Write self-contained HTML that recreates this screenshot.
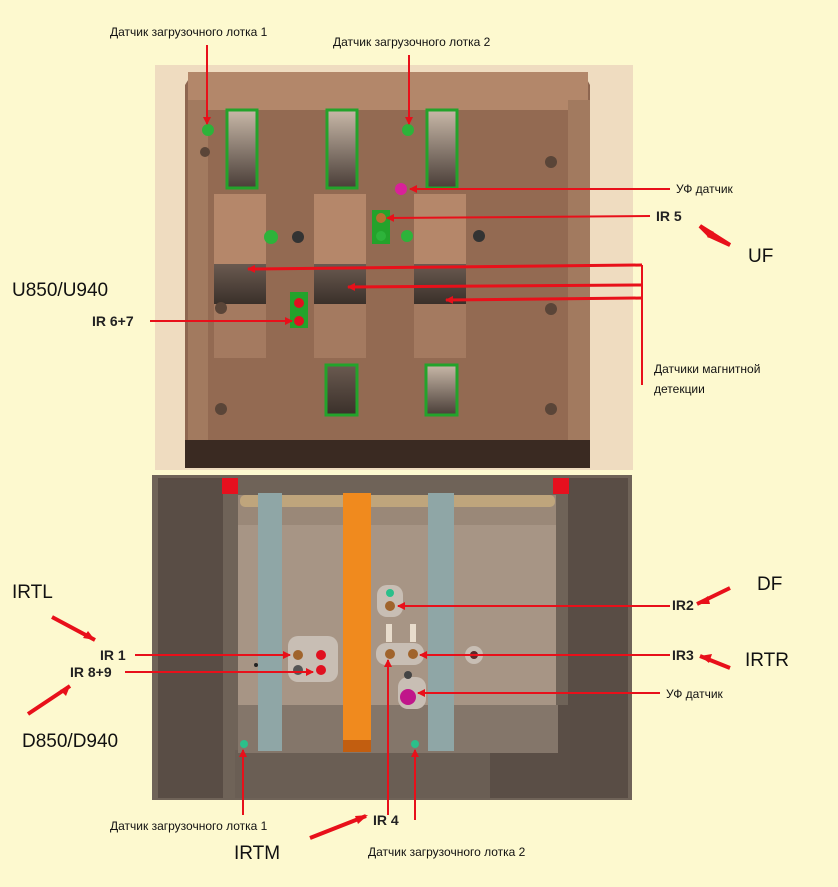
<!DOCTYPE html>
<html><head><meta charset="utf-8"><style>
html,body{margin:0;padding:0;background:#fdf9cf;}
svg{display:block}
text{font-family:"Liberation Sans",sans-serif;}
</style></head><body>
<svg width="838" height="887" viewBox="0 0 838 887" xmlns="http://www.w3.org/2000/svg">
<defs>
<marker id="a" markerWidth="8" markerHeight="8" refX="7" refY="4" orient="auto" markerUnits="userSpaceOnUse"><path d="M0,0 L8,4 L0,8 z" fill="#e8101a"/></marker>
<linearGradient id="roll" x1="0" y1="0" x2="0" y2="1"><stop offset="0" stop-color="#c8b8a8"/><stop offset="1" stop-color="#4a3e38"/></linearGradient>
<linearGradient id="dark" x1="0" y1="0" x2="0" y2="1"><stop offset="0" stop-color="#6a5a50"/><stop offset="1" stop-color="#3a302a"/></linearGradient>
</defs>
<rect width="838" height="887" fill="#fdf9cf"/>
<!-- top image -->
<rect x="155" y="65" width="478" height="405" fill="#efdcc0"/>
<path d="M193,72 L583,72 L590,85 L590,440 L575,468 L200,468 L185,440 L185,85 Z" fill="#8e6650"/>
<rect x="188" y="72" width="400" height="38" fill="#b3876a"/>
<rect x="208" y="110" width="370" height="330" fill="#936a52"/>
<rect x="185" y="440" width="405" height="28" fill="#3a2a22"/>
<rect x="188" y="100" width="20" height="340" fill="#a27a5f"/>
<rect x="568" y="100" width="22" height="340" fill="#a27a5f"/>
<!-- rollers top -->
<g stroke="#23a32b" stroke-width="3" fill="url(#roll)">
<rect x="227" y="110" width="30" height="78"/><rect x="327" y="110" width="30" height="78"/><rect x="427" y="110" width="30" height="78"/>
<rect x="326" y="365" width="31" height="50" fill="url(#dark)"/><rect x="426" y="365" width="31" height="50"/>
</g>
<!-- big blocks -->
<g>
<rect x="214" y="194" width="52" height="70" fill="#b5876a"/><rect x="214" y="264" width="52" height="40" fill="url(#dark)"/><rect x="214" y="304" width="52" height="54" fill="#a47a60"/>
<rect x="314" y="194" width="52" height="70" fill="#b5876a"/><rect x="314" y="264" width="52" height="40" fill="url(#dark)"/><rect x="314" y="304" width="52" height="54" fill="#a47a60"/>
<rect x="414" y="194" width="52" height="70" fill="#b5876a"/><rect x="414" y="264" width="52" height="40" fill="url(#dark)"/><rect x="414" y="304" width="52" height="54" fill="#a47a60"/>
</g>
<circle cx="208" cy="130" r="6" fill="#2db33a"/><circle cx="408" cy="130" r="6" fill="#2db33a"/>
<circle cx="205" cy="152" r="5" fill="#5a4538"/><circle cx="551" cy="162" r="6" fill="#5a4538"/>
<circle cx="221" cy="308" r="6" fill="#5a4538"/><circle cx="221" cy="409" r="6" fill="#5a4538"/><circle cx="551" cy="309" r="6" fill="#5a4538"/><circle cx="551" cy="409" r="6" fill="#5a4538"/>
<circle cx="401" cy="189" r="6" fill="#d9219a"/>
<rect x="372" y="210" width="18" height="34" fill="#23a32b"/><circle cx="381" cy="218" r="5" fill="#b4702f"/><circle cx="381" cy="236" r="5" fill="#2db33a"/>
<circle cx="271" cy="237" r="7" fill="#2db33a"/><circle cx="298" cy="237" r="6" fill="#333"/><circle cx="407" cy="236" r="6" fill="#2db33a"/><circle cx="479" cy="236" r="6" fill="#333"/>
<rect x="290" y="292" width="18" height="36" fill="#23a32b"/><circle cx="299" cy="303" r="5" fill="#e01020"/><circle cx="299" cy="321" r="5" fill="#e01020"/>
<!-- bottom image -->
<rect x="152" y="475" width="480" height="325" fill="#6f6358"/>
<rect x="158" y="478" width="65" height="320" fill="#594d45"/>
<rect x="568" y="478" width="60" height="320" fill="#594d45"/>
<rect x="238" y="495" width="318" height="255" fill="#a79585"/>
<rect x="238" y="495" width="318" height="30" fill="#9a8878"/>
<rect x="240" y="495" width="315" height="12" rx="5" fill="#bfa57c"/>
<rect x="222" y="478" width="16" height="16" fill="#e6101e"/><rect x="553" y="478" width="16" height="16" fill="#e6101e"/>
<rect x="235" y="750" width="330" height="48" fill="#6a5e54"/>
<rect x="490" y="705" width="80" height="93" fill="#5a4e46"/>
<rect x="238" y="705" width="320" height="48" fill="#84766a"/>
<rect x="258" y="493" width="24" height="258" fill="#8fa6a6"/>
<rect x="428" y="493" width="26" height="258" fill="#8fa6a6"/>
<rect x="343" y="493" width="28" height="258" fill="#f08a1e"/>
<rect x="343" y="740" width="28" height="12" fill="#c25e10"/>
<rect x="288" y="636" width="50" height="46" rx="10" fill="#c8beb4"/>
<circle cx="298" cy="655" r="5" fill="#a0642c"/><circle cx="321" cy="655" r="5" fill="#e01020"/><circle cx="321" cy="670" r="5" fill="#e01020"/><circle cx="298" cy="670" r="5" fill="#555"/>
<rect x="377" y="585" width="26" height="32" rx="10" fill="#c8beb4"/><circle cx="390" cy="593" r="4" fill="#2bbf8a"/><circle cx="390" cy="606" r="5" fill="#a0642c"/>
<rect x="376" y="643" width="48" height="22" rx="10" fill="#c8beb4"/><circle cx="390" cy="654" r="5" fill="#a0642c"/><circle cx="413" cy="654" r="5" fill="#a0642c"/>
<rect x="386" y="624" width="6" height="18" fill="#e8dccc"/><rect x="410" y="624" width="6" height="18" fill="#e8dccc"/>
<rect x="398" y="677" width="28" height="32" rx="10" fill="#c8beb4"/><circle cx="408" cy="697" r="8" fill="#c0168a"/><circle cx="408" cy="675" r="4" fill="#444"/>
<circle cx="474" cy="655" r="9" fill="#c8beb4"/><circle cx="474" cy="655" r="4" fill="#5a2a2a"/>
<circle cx="244" cy="744" r="4" fill="#2bbf8a"/><circle cx="415" cy="744" r="4" fill="#2bbf8a"/>
<circle cx="256" cy="665" r="2" fill="#222"/>
<!-- arrows -->
<g stroke="#e8101a" stroke-width="2" fill="none">
<line x1="207" y1="45" x2="207" y2="124" marker-end="url(#a)"/>
<line x1="409" y1="55" x2="409" y2="124" marker-end="url(#a)"/>
<line x1="670" y1="189" x2="410" y2="189" marker-end="url(#a)"/>
<line x1="650" y1="216" x2="387" y2="218" marker-end="url(#a)"/>
<line x1="642" y1="265" x2="642" y2="385"/>
<line x1="642" y1="265" x2="248" y2="269" stroke-width="3" marker-end="url(#a)"/>
<line x1="642" y1="285" x2="348" y2="287" stroke-width="3" marker-end="url(#a)"/>
<line x1="642" y1="298" x2="446" y2="300" stroke-width="3" marker-end="url(#a)"/>
<line x1="150" y1="321" x2="292" y2="321" marker-end="url(#a)"/>
<line x1="670" y1="606" x2="398" y2="606" marker-end="url(#a)"/>
<line x1="670" y1="655" x2="420" y2="655" marker-end="url(#a)"/>
<line x1="660" y1="693" x2="418" y2="693" marker-end="url(#a)"/>
<line x1="135" y1="655" x2="290" y2="655" marker-end="url(#a)"/>
<line x1="125" y1="672" x2="313" y2="672" marker-end="url(#a)"/>
<line x1="243" y1="815" x2="243" y2="750" marker-end="url(#a)"/>
<line x1="415" y1="820" x2="415" y2="750" marker-end="url(#a)"/>
<line x1="388" y1="815" x2="388" y2="660" marker-end="url(#a)"/>
</g>
<g fill="#e8101a">
<path d="M730,245 L700,226 L710,236 Z" stroke="#e8101a" stroke-width="4"/>
<path d="M730,588 L697,604 Z" stroke="#e8101a" stroke-width="4"/>
<path d="M730,668 L700,656 Z" stroke="#e8101a" stroke-width="4"/>
<path d="M52,617 L95,640 Z" stroke="#e8101a" stroke-width="4"/>
<path d="M28,714 L70,686 Z" stroke="#e8101a" stroke-width="4"/>
<path d="M310,838 L366,816 Z" stroke="#e8101a" stroke-width="4"/>
</g>
<g fill="#e8101a"><path d="M702,226 L714,232 L708,238Z"/><path d="M697,604 L708,596 L710,604Z"/><path d="M700,656 L712,654 L709,663Z"/><path d="M95,640 L83,638 L88,631Z"/><path d="M70,686 L66,696 L60,690Z"/><path d="M368,815 L358,824 L355,816Z"/></g>
<!-- labels -->
<g font-size="12" fill="#111">
<text x="110" y="36">Датчик загрузочного лотка 1</text>
<text x="333" y="46">Датчик загрузочного лотка 2</text>
<text x="676" y="193">УФ датчик</text>
<text x="654" y="373">Датчики магнитной</text>
<text x="654" y="393">детекции</text>
<text x="666" y="698">УФ датчик</text>
<text x="110" y="830">Датчик загрузочного лотка 1</text>
<text x="368" y="856">Датчик загрузочного лотка 2</text>
</g>
<g font-size="14" font-weight="bold" fill="#222">
<text x="656" y="221">IR 5</text>
<text x="92" y="326">IR 6+7</text>
<text x="672" y="610">IR2</text>
<text x="672" y="660">IR3</text>
<text x="100" y="660">IR 1</text>
<text x="70" y="677">IR 8+9</text>
<text x="373" y="825">IR 4</text>
</g>
<g font-size="19" fill="#111">
<text x="748" y="262">UF</text>
<text x="12" y="296">U850/U940</text>
<text x="757" y="590">DF</text>
<text x="12" y="598">IRTL</text>
<text x="745" y="666">IRTR</text>
<text x="22" y="747">D850/D940</text>
<text x="234" y="859">IRTM</text>
</g>
</svg>
</body></html>
